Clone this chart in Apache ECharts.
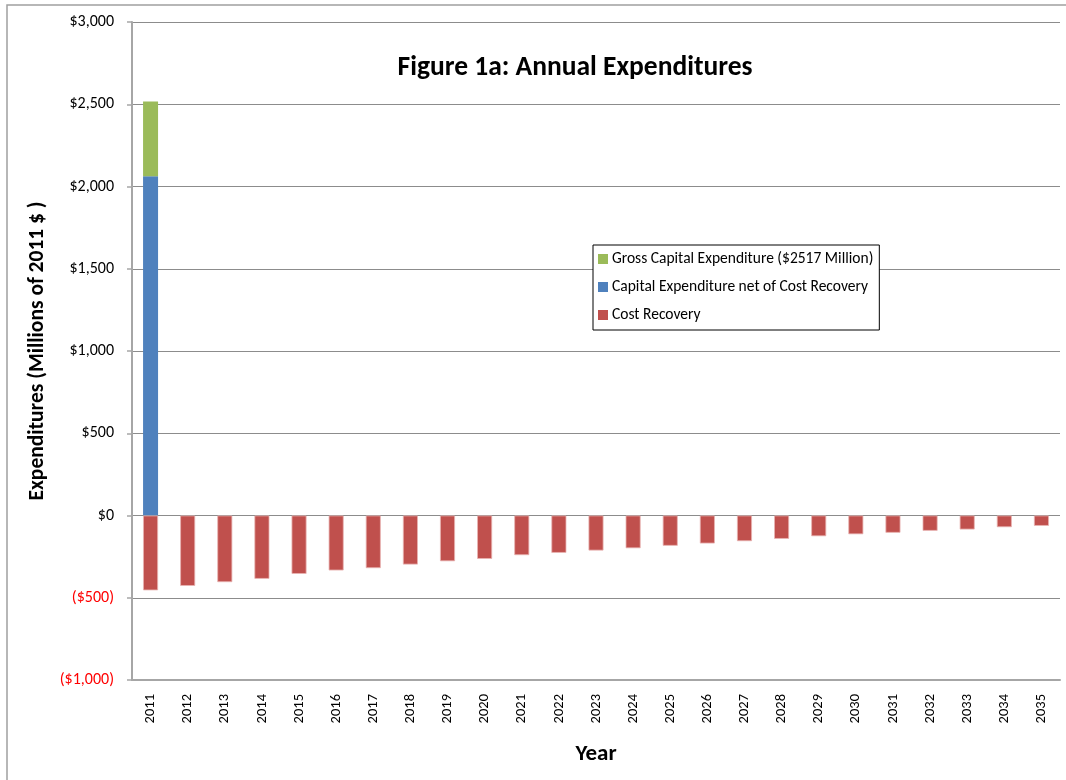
<!DOCTYPE html>
<html>
<head>
<meta charset="utf-8">
<script src="https://cdn.jsdelivr.net/npm/echarts@6/dist/echarts.min.js"></script>
<style>html,body{margin:0;padding:0;background:#fff}#c{width:1066px;height:780px}</style>
</head>
<body>
<div id="c"></div>
<script>
const years = ['2011','2012','2013','2014','2015','2016','2017','2018','2019','2020','2021','2022','2023','2024','2025','2026','2027','2028','2029','2030','2031','2032','2033','2034','2035'];
const capitalNet = [2062,null,null,null,null,null,null,null,null,null,null,null,null,null,null,null,null,null,null,null,null,null,null,null,null];
const grossTopUp = [455,null,null,null,null,null,null,null,null,null,null,null,null,null,null,null,null,null,null,null,null,null,null,null,null];
const costRecovery = [-455,-428,-405,-385,-355,-334,-320,-298,-278,-264,-241,-227,-213,-199,-184,-170,-156,-142,-126,-114,-105,-93,-85,-71,-63];
const yTicks = [-1000,-500,0,500,1000,1500,2000,2500,3000];

const FONT = 'Carlito, Calibri, Lato, "Open Sans", sans-serif';
const chart = echarts.init(document.getElementById('c'));
function fmt(v){
  const a = Math.abs(v).toLocaleString('en-US');
  return v < 0 ? '($' + a + ')' : '$' + a;
}
chart.setOption({
  animation:false,
  backgroundColor:'#fff',
  textStyle:{fontFamily:FONT},
  title:{
    text:'Figure 1a: Annual Expenditures',
    left:570, top:49, textAlign:'center',
    textStyle:{fontFamily:FONT,fontSize:27.5,fontWeight:'bold',color:'#000'}
  },
  legend:{
    orient:'vertical',
    left:593, top:245,
    padding:[5,6,6,5],
    itemGap:10,
    itemWidth:10, itemHeight:10,
    icon:'rect',
    itemStyle:{borderWidth:0},
    backgroundColor:'#fff',
    borderColor:'#000', borderWidth:1,
    textStyle:{fontFamily:FONT,fontSize:15.5,lineHeight:18,color:'#000',padding:[0,0,0,-1]},
    data:['Gross Capital Expenditure ($2517 Million)','Capital Expenditure net of Cost Recovery','Cost Recovery']
  },
  grid:{left:132,right:6,top:22,bottom:100,containLabel:false},
  xAxis:{
    type:'category',
    data:years,
    name:'Year',
    nameLocation:'middle',
    nameGap:63,
    nameTextStyle:{fontFamily:FONT,fontSize:23,fontWeight:'bold',color:'#000'},
    axisLine:{onZero:false,lineStyle:{color:'#a6a6a6',width:2}},
    axisTick:{show:false},
    axisLabel:{rotate:90,margin:14,fontFamily:FONT,fontSize:14.5,color:'#000'}
  },
  yAxis:{
    type:'value',
    min:-1000,max:3000,interval:500,
    name:'Expenditures (Millions of 2011 $ )',
    nameLocation:'middle',
    nameGap:73,
    nameTextStyle:{fontFamily:FONT,fontSize:21.5,fontWeight:'bold',color:'#000'},
    axisLine:{show:true,lineStyle:{color:'#a6a6a6',width:2}},
    axisTick:{show:true,length:5,lineStyle:{color:'#a6a6a6',width:1.5}},
    splitLine:{lineStyle:{color:'#8c8c8c',width:1}},
    axisLabel:{
      margin:18,fontFamily:FONT,fontSize:16,
      formatter:fmt,
      color:function(v){return Number(v) < 0 ? '#ff0000' : '#000';}
    }
  },
  series:[
    {name:'Capital Expenditure net of Cost Recovery',type:'bar',stack:'t',data:capitalNet,barWidth:15,
     itemStyle:{color:'#4F81BD'}},
    {name:'Gross Capital Expenditure ($2517 Million)',type:'bar',stack:'t',data:grossTopUp,barWidth:15,
     itemStyle:{color:'#9BBB59'}},
    {name:'Cost Recovery',type:'bar',stack:'t',data:costRecovery,barWidth:15,
     itemStyle:{color:'#C0504D',borderColor:'#e8b4b3',borderWidth:0.8}}
  ],
  graphic:[
    {type:'rect',shape:{x:7,y:5,width:1100,height:800},style:{fill:'none',stroke:'#a0a0a0',lineWidth:1.5},silent:true}
  ]
});
</script>
</body>
</html>
